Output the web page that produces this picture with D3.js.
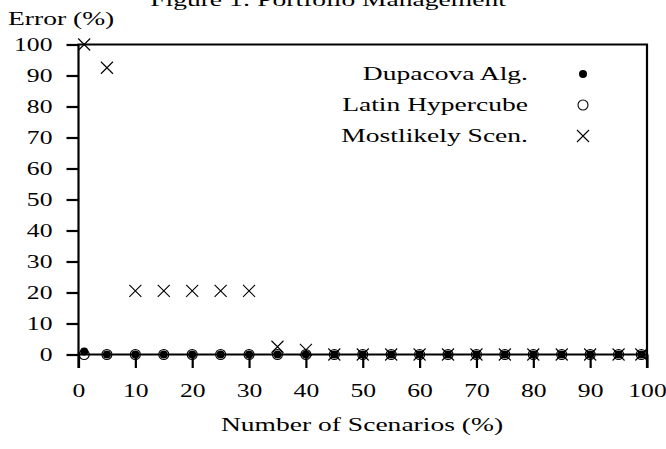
<!DOCTYPE html>
<html>
<head>
<meta charset="utf-8">
<script src="https://cdn.jsdelivr.net/npm/d3@7"></script>
<style>
  body { margin: 0; background: #fff; }
  text { font-family: "Liberation Serif", "DejaVu Serif", serif; fill: #000; }
</style>
</head>
<body>
<script>
const width = 666;
const height = 449;

// data
const scenarios = [1, 5, 10, 15, 20, 25, 30, 35, 40, 45, 50, 55, 60, 65, 70, 75, 80, 85, 90, 95, 99];
const dupacova = [1, 0, 0, 0, 0, 0, 0, 0, 0, 0, 0, 0, 0, 0, 0, 0, 0, 0, 0, 0, 0];
const latin = [0, 0, 0, 0, 0, 0, 0, 0, 0, 0, 0, 0, 0, 0, 0, 0, 0, 0, 0, 0, 0];
const mostlikely = [100, 92.5, 20.5, 20.5, 20.5, 20.5, 20.5, 2.5, 1.5, 0, 0, 0, 0, 0, 0, 0, 0, 0, 0, 0, 0];
const xTicks = [0, 10, 20, 30, 40, 50, 60, 70, 80, 90, 100];
const yTicks = [0, 10, 20, 30, 40, 50, 60, 70, 80, 90, 100];
const seriesNames = ["Dupacova Alg.", "Latin Hypercube", "Mostlikely Scen."];

const plotLeft = 78.5, plotRight = 647, plotTop = 44.5, zeroY = 354.5, plotBottom = 368;
const fontSize = 19;
const stretch = 1.45; // the original render is wider than tall

const svg = d3.select("body")
              .append("svg")
              .attr("width", width)
              .attr("height", height);

let x = d3.scaleLinear().domain([0, 100]).range([plotLeft, plotRight]);
let y = d3.scaleLinear().domain([0, 100]).range([zeroY, plotTop]);

// put a text at (tx, ty) and widen it
function wideText(parent, tx, ty, str, anchor, k) {
    return parent.append("text")
                 .attr("transform", "translate(" + tx + "," + ty + ") scale(" + (k || stretch) + ",1)")
                 .attr("text-anchor", anchor)
                 .attr("font-size", fontSize)
                 .text(str);
}
function widenTicks(g) {
    g.selectAll("text").each(function() {
        const t = d3.select(this);
        const tx = +t.attr("x") || 0, ty = +t.attr("y") || 0;
        t.attr("x", 0).attr("y", 0)
         .attr("font-size", fontSize)
         .attr("font-family", "Liberation Serif")
         .attr("transform", "translate(" + tx + "," + ty + ") scale(" + 1.35 + ",1)");
    });
}

// frame (no bottom line, zero axis instead)
svg.append("path")
   .attr("d", "M" + plotLeft + "," + plotBottom + "V" + plotTop + "H" + plotRight + "V" + plotBottom)
   .attr("fill", "none")
   .attr("stroke", "#000")
   .attr("stroke-width", 2.2);

// y axis ticks + labels
const yAxis = d3.axisLeft(y).tickValues(yTicks).tickSize(12).tickPadding(14);
svg.append("g")
   .attr("transform", "translate(" + plotLeft + ",0)")
   .call(yAxis)
   .call(g => g.select(".domain").remove())
   .call(g => g.selectAll("line").attr("stroke-width", 2.2))
   .call(widenTicks);

// x axis sits on y = 0, ticks downward
const xAxis = d3.axisBottom(x).tickValues(xTicks).tickSize(plotBottom - zeroY).tickPadding(16);
svg.append("g")
   .attr("transform", "translate(0," + zeroY + ")")
   .call(xAxis)
   .call(g => g.select(".domain").attr("d", "M" + plotLeft + ",0H" + plotRight).attr("stroke-width", 2.2))
   .call(g => g.selectAll("line").attr("stroke-width", 2.2))
   .call(widenTicks);

// markers
function drawDot(g, cx, cy) {
    g.append("circle").attr("cx", cx).attr("cy", cy).attr("r", 4).attr("fill", "#000");
}
function drawCircle(g, cx, cy) {
    g.append("circle").attr("cx", cx).attr("cy", cy).attr("r", 5)
     .attr("fill", "none").attr("stroke", "#000").attr("stroke-width", 1.1);
}
function drawCross(g, cx, cy) {
    const s = 6;
    g.append("path")
     .attr("d", "M" + (cx - s) + "," + (cy - s) + "L" + (cx + s) + "," + (cy + s) +
                "M" + (cx - s) + "," + (cy + s) + "L" + (cx + s) + "," + (cy - s))
     .attr("stroke", "#000").attr("stroke-width", 1.1);
}

const pts = svg.append("g");
scenarios.forEach((s, i) => drawDot(pts, x(s), y(dupacova[i])));
scenarios.forEach((s, i) => drawCircle(pts, x(s), y(latin[i])));
scenarios.forEach((s, i) => drawCross(pts, x(s), y(mostlikely[i])));

// legend
const legend = svg.append("g");
const drawers = [drawDot, drawCircle, drawCross];
seriesNames.forEach((name, i) => {
    const ly = 74 + i * 31;
    wideText(legend, 528, ly + 6, name, "end");
    drawers[i](legend, 583, ly);
});

// titles
wideText(svg, 328, 6, "Figure 1: Portfolio Management", "middle");
wideText(svg, 8, 25, "Error (%)", "start");
wideText(svg, 362, 431, "Number of Scenarios (%)", "middle");
</script>
</body>
</html>
